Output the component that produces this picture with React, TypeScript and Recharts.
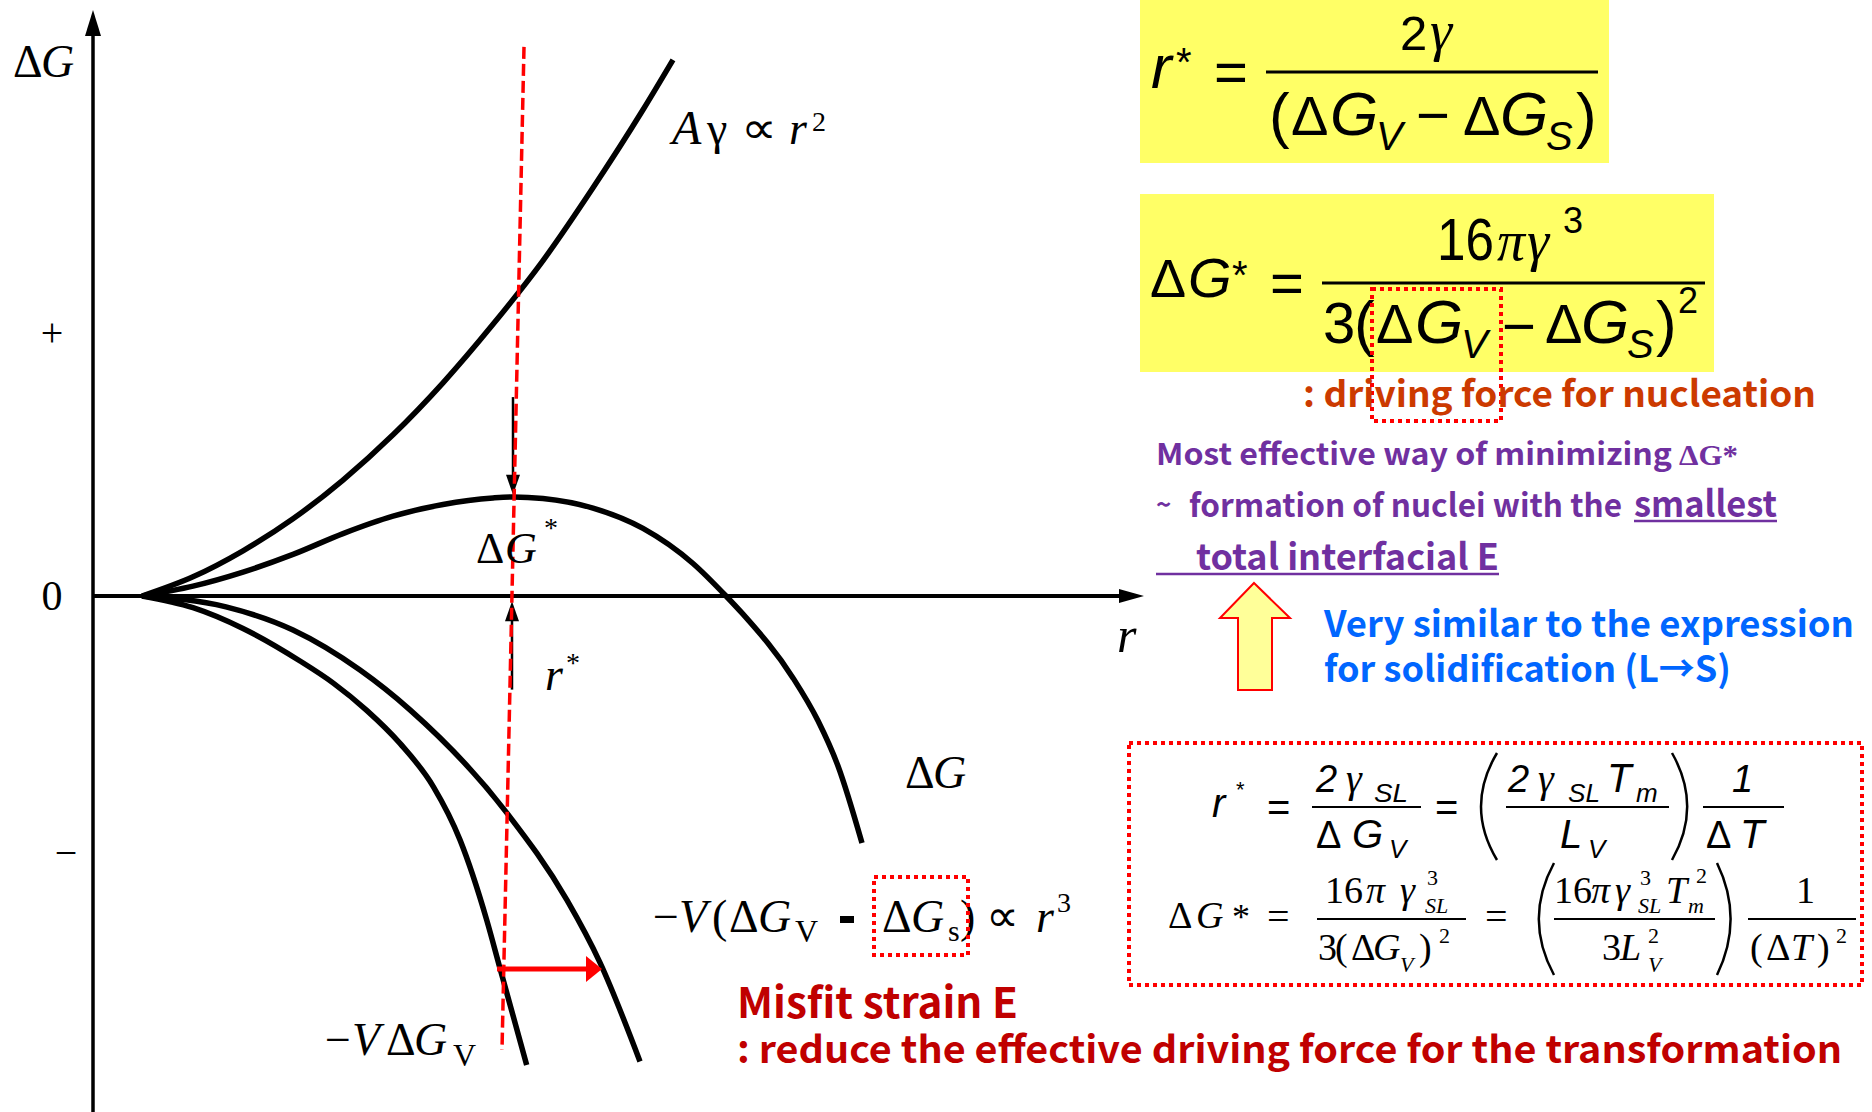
import React from "react";
import { LineChart, Line, XAxis, YAxis, ReferenceLine } from "recharts";

const SERIF = "'Liberation Serif', 'DejaVu Serif', serif";
const SYM = "'DejaVu Sans', 'DejaVu Serif', sans-serif";
const SANS = "'Liberation Sans', Arial, sans-serif";
const KR = "'Noto Sans CJK KR', 'Noto Sans', sans-serif";

// radius r and free energy g, arbitrary units
const rSurface = [0.49, 1.0, 1.5, 2.0, 2.5, 3.0, 3.5, 4.0, 4.5, 5.0, 5.5, 5.8];
const gSurface = [0, 0.074, 0.174, 0.297, 0.446, 0.62, 0.82, 1.045, 1.29, 1.57, 1.87, 2.062];

const rTotal = [0.49, 1.0, 1.5, 2.0, 2.5, 3.0, 3.5, 4.0, 4.2, 4.5, 5.0, 5.5, 6.0, 6.33, 6.5, 7.0, 7.25, 7.45, 7.69];
const gTotal = [0, 0.038, 0.092, 0.16, 0.24, 0.307, 0.352, 0.377, 0.381, 0.375, 0.338, 0.26, 0.125, 0, -0.07, -0.315, -0.48, -0.654, -0.95];

const rStrained = [0.49, 1.33, 2.0, 2.67, 3.17, 4.14, 4.74, 5.07, 5.47];
const gStrained = [0, -0.042, -0.131, -0.285, -0.438, -0.835, -1.17, -1.41, -1.79];

const rVolume = [0.49, 1.0, 1.5, 2.07, 2.403, 2.737, 3.07, 3.403, 3.67, 3.937, 4.07, 4.337];
const gVolume = [0, -0.045, -0.125, -0.25, -0.335, -0.44, -0.567, -0.733, -0.938, -1.246, -1.432, -1.804];

const rGuide = [4.31, 4.09];
const gGuide = [2.112, -1.746];

const yTicks = [-1, 0, 1];
const yTickText = ["−", "0", "+"];

const criticalR = 4.2;
const barrierG = 0.381;
const misfitR = [4.04, 5.09];
const misfitG = -1.435;

const toPoints = (rs: number[], gs: number[]) => rs.map((r, i) => ({ r, g: gs[i] }));

const arrowShape = (head: number, half: number) => (props: any) => {
  const { x1, y1, x2, y2, stroke, strokeWidth } = props;
  const dx = x2 - x1;
  const dy = y2 - y1;
  const len = Math.hypot(dx, dy) || 1;
  const ux = dx / len;
  const uy = dy / len;
  const bx = x2 - ux * head;
  const by = y2 - uy * head;
  return (
    <g>
      <line x1={x1} y1={y1} x2={bx + ux} y2={by + uy} stroke={stroke} strokeWidth={strokeWidth} />
      <polygon
        points={`${x2},${y2} ${bx - uy * half},${by + ux * half} ${bx + uy * half},${by - ux * half}`}
        fill={stroke}
      />
    </g>
  );
};

const SignTick = ({ y, payload }: any) => {
  const v = payload.value;
  const label = yTickText[yTicks.indexOf(v)];
  return (
    <text
      x={v < 0 ? 66 : 52}
      y={y}
      dy={v === 0 ? 14 : 10}
      textAnchor="middle"
      fontSize={v === 0 ? 42 : 40}
      fontFamily={SERIF}
      fill="#000"
    >
      {label}
    </text>
  );
};

const Tx = ({ x, y, s, i, b, f = SERIF, c = "#000", len, children }: any) => (
  <text
    x={x}
    y={y}
    fontSize={s}
    fontStyle={i ? "italic" : "normal"}
    fontWeight={b ? 700 : 400}
    fontFamily={f}
    fill={c}
    textLength={len}
    lengthAdjust={len ? "spacingAndGlyphs" : undefined}
  >
    {children}
  </text>
);

const Paren = ({ x, top, bottom, w, open }: any) => {
  const mid = (top + bottom) / 2;
  const d = open
    ? `M${x + w},${top} Q${x - w * 0.6},${mid} ${x + w},${bottom}`
    : `M${x},${top} Q${x + w * 1.6},${mid} ${x},${bottom}`;
  return <path d={d} fill="none" stroke="#000" strokeWidth={2.5} />;
};

const RED = "#FF0000";

const Annotations = () => (
  <svg
    width={1872}
    height={1112}
    style={{ position: "absolute", left: 0, top: 0, pointerEvents: "none" }}
  >
    {/* axis titles */}
    <Tx x={13} y={77} s={46}>Δ</Tx>
    <Tx x={41} y={77} s={46} i>G</Tx>
    <Tx x={1117} y={652} s={50} i>r</Tx>

    {/* curve labels */}
    <Tx x={672} y={144} s={48} i>A</Tx>
    <Tx x={707} y={144} s={46}>γ</Tx>
    <Tx x={741} y={143} s={44} f={SYM} len={36}>∝</Tx>
    <Tx x={789} y={144} s={46} i>r</Tx>
    <Tx x={812} y={131} s={28}>2</Tx>

    <Tx x={476} y={563} s={44}>Δ</Tx>
    <Tx x={505} y={563} s={44} i>G</Tx>
    <Tx x={544} y={537} s={28}>*</Tx>

    <Tx x={545} y={690} s={46} i>r</Tx>
    <Tx x={566} y={672} s={28}>*</Tx>

    <Tx x={905} y={788} s={46}>Δ</Tx>
    <Tx x={933} y={788} s={46} i>G</Tx>

    <Tx x={653} y={932} s={46}>−</Tx>
    <Tx x={679} y={932} s={46} i>V</Tx>
    <Tx x={712} y={932} s={46}>(</Tx>
    <Tx x={729} y={932} s={46}>Δ</Tx>
    <Tx x={758} y={932} s={46} i>G</Tx>
    <Tx x={795} y={942} s={32}>V</Tx>
    <rect x={840} y={916} width={14} height={7} fill="#000" />
    <Tx x={882} y={932} s={46}>Δ</Tx>
    <Tx x={911} y={932} s={46} i>G</Tx>
    <Tx x={948} y={941} s={30}>s</Tx>
    <Tx x={960} y={932} s={46}>)</Tx>
    <Tx x={986} y={931} s={44} f={SYM} len={33}>∝</Tx>
    <Tx x={1036} y={932} s={46} i>r</Tx>
    <Tx x={1057} y={912} s={28}>3</Tx>
    <rect x={874} y={877} width={94} height={78} fill="none" stroke={RED} strokeWidth={4} strokeDasharray="4 4" />

    <Tx x={325} y={1055} s={46}>−</Tx>
    <Tx x={352} y={1055} s={46} i>V</Tx>
    <Tx x={386} y={1055} s={46}>Δ</Tx>
    <Tx x={414} y={1055} s={46} i>G</Tx>
    <Tx x={453} y={1066} s={32}>V</Tx>

    <Tx x={737} y={1018} s={42} b f={KR} c="#C00000" len={281}>Misfit strain E</Tx>
    <Tx x={737} y={1063} s={38} b f={KR} c="#C00000" len={1105}>
      : reduce the effective driving force for the transformation
    </Tx>

    {/* r* = 2γ / (ΔGV − ΔGS) */}
    <rect x={1140} y={0} width={469} height={163} fill="#FFFF66" />
    <Tx x={1151} y={88} s={62} i f={SANS}>r</Tx>
    <Tx x={1176} y={76} s={40} f={SANS}>*</Tx>
    <Tx x={1214} y={92} s={58} f={SANS}>=</Tx>
    <line x1={1266} y1={72} x2={1598} y2={72} stroke="#000" strokeWidth={3} />
    <Tx x={1400} y={50} s={49} f={SANS}>2</Tx>
    <Tx x={1430} y={50} s={56} i>γ</Tx>
    <Tx x={1269} y={136} s={62} f={SANS}>(</Tx>
    <Tx x={1291} y={135} s={56} f={SANS}>Δ</Tx>
    <Tx x={1330} y={135} s={62} i f={SANS}>G</Tx>
    <Tx x={1376} y={150} s={40} i f={SANS}>V</Tx>
    <Tx x={1416} y={135} s={58} f={SANS}>−</Tx>
    <Tx x={1463} y={135} s={56} f={SANS}>Δ</Tx>
    <Tx x={1500} y={135} s={62} i f={SANS}>G</Tx>
    <Tx x={1546} y={150} s={40} i f={SANS}>S</Tx>
    <Tx x={1576} y={136} s={62} f={SANS}>)</Tx>

    {/* ΔG* = 16πγ³ / 3(ΔGV − ΔGS)² */}
    <rect x={1140} y={194} width={574} height={178} fill="#FFFF66" />
    <Tx x={1150} y={297} s={54} f={SANS}>Δ</Tx>
    <Tx x={1188} y={297} s={56} i f={SANS}>G</Tx>
    <Tx x={1232} y={289} s={40} f={SANS}>*</Tx>
    <Tx x={1270} y={303} s={58} f={SANS}>=</Tx>
    <line x1={1322} y1={283} x2={1705} y2={283} stroke="#000" strokeWidth={3} />
    <Tx x={1437} y={260} s={60} f={SANS} len={57}>16</Tx>
    <Tx x={1497} y={260} s={56} i>π</Tx>
    <Tx x={1527} y={260} s={56} i>γ</Tx>
    <Tx x={1563} y={233} s={36} f={SANS}>3</Tx>
    <Tx x={1323} y={343} s={58} f={SANS}>3</Tx>
    <Tx x={1354} y={344} s={62} f={SANS}>(</Tx>
    <Tx x={1376} y={343} s={56} f={SANS}>Δ</Tx>
    <Tx x={1415} y={343} s={62} i f={SANS}>G</Tx>
    <Tx x={1461} y={358} s={40} i f={SANS}>V</Tx>
    <Tx x={1502} y={346} s={58} f={SANS}>−</Tx>
    <Tx x={1545} y={343} s={56} f={SANS}>Δ</Tx>
    <Tx x={1581} y={343} s={62} i f={SANS}>G</Tx>
    <Tx x={1627} y={358} s={40} i f={SANS}>S</Tx>
    <Tx x={1656} y={344} s={62} f={SANS}>)</Tx>
    <Tx x={1678} y={313} s={36} f={SANS}>2</Tx>
    <rect x={1372} y={289} width={129} height={132} fill="none" stroke={RED} strokeWidth={4} strokeDasharray="4 4" />

    <Tx x={1303} y={407} s={36} b f={KR} c="#CC3A00" len={513}>: driving force for nucleation</Tx>

    <Tx x={1156} y={465} s={30} b f={KR} c="#7030A0" len={516}>Most effective way of minimizing</Tx>
    <Tx x={1679} y={465} s={30} b c="#7030A0" len={59}>ΔG*</Tx>
    <Tx x={1156} y={514} s={26} b f={KR} c="#7030A0">~</Tx>
    <Tx x={1189} y={517} s={32} b f={KR} c="#7030A0" len={433}>formation of nuclei with the</Tx>
    <Tx x={1634} y={517} s={36} b f={KR} c="#7030A0" len={143}>smallest</Tx>
    <line x1={1634} y1={521} x2={1777} y2={521} stroke="#7030A0" strokeWidth={2.5} />
    <Tx x={1196} y={570} s={36} b f={KR} c="#7030A0" len={303}>total interfacial E</Tx>
    <line x1={1156} y1={574} x2={1499} y2={574} stroke="#7030A0" strokeWidth={2.5} />

    <polygon
      points="1254,583 1290,618 1272,618 1272,690 1238,690 1238,618 1220,618"
      fill="#FFFF99"
      stroke={RED}
      strokeWidth={2}
    />
    <Tx x={1324} y={637} s={36} b f={KR} c="#0066FF" len={530}>Very similar to the expression</Tx>
    <Tx x={1324} y={682} s={36} b f={KR} c="#0066FF" len={407}>for solidification (L→S)</Tx>

    {/* homogeneous solidification results */}
    <rect x={1129} y={743} width={733} height={242} fill="none" stroke={RED} strokeWidth={4} strokeDasharray="4 4" />
    <Tx x={1212} y={817} s={40} i f={SANS}>r</Tx>
    <Tx x={1236} y={797} s={22} f={SANS}>*</Tx>
    <Tx x={1267} y={821} s={40} f={SANS}>=</Tx>
    <Tx x={1316} y={792} s={38} i f={SANS}>2</Tx>
    <Tx x={1346} y={792} s={40} i>γ</Tx>
    <Tx x={1374} y={802} s={26} i f={SANS} len={34}>SL</Tx>
    <line x1={1312} y1={807} x2={1421} y2={807} stroke="#000" strokeWidth={2} />
    <Tx x={1316} y={848} s={38} f={SANS}>Δ</Tx>
    <Tx x={1352} y={848} s={40} i f={SANS}>G</Tx>
    <Tx x={1389} y={858} s={26} i f={SANS}>V</Tx>
    <Tx x={1435} y={821} s={40} f={SANS}>=</Tx>
    <Paren x={1477} top={753} bottom={860} w={20} open />
    <Tx x={1508} y={792} s={38} i f={SANS}>2</Tx>
    <Tx x={1538} y={792} s={40} i>γ</Tx>
    <Tx x={1568} y={802} s={26} i f={SANS} len={32}>SL</Tx>
    <Tx x={1607} y={792} s={40} i f={SANS}>T</Tx>
    <Tx x={1636} y={802} s={26} i f={SANS}>m</Tx>
    <line x1={1506} y1={807} x2={1669} y2={807} stroke="#000" strokeWidth={2} />
    <Tx x={1560} y={848} s={40} i f={SANS}>L</Tx>
    <Tx x={1588} y={858} s={26} i f={SANS}>V</Tx>
    <Paren x={1672} top={753} bottom={860} w={19} />
    <Tx x={1732} y={792} s={38} i f={SANS}>1</Tx>
    <line x1={1703} y1={807} x2={1784} y2={807} stroke="#000" strokeWidth={2} />
    <Tx x={1706} y={848} s={38} f={SANS}>Δ</Tx>
    <Tx x={1740} y={848} s={40} i f={SANS}>T</Tx>

    <Tx x={1168} y={928} s={38}>Δ</Tx>
    <Tx x={1196} y={928} s={38} i>G</Tx>
    <Tx x={1232} y={929} s={36}>*</Tx>
    <Tx x={1267} y={930} s={40}>=</Tx>
    <Tx x={1325} y={903} s={38}>16</Tx>
    <Tx x={1366} y={903} s={38} i>π</Tx>
    <Tx x={1400} y={903} s={38} i>γ</Tx>
    <Tx x={1427} y={885} s={22}>3</Tx>
    <Tx x={1425} y={913} s={22} i>SL</Tx>
    <line x1={1317} y1={919} x2={1466} y2={919} stroke="#000" strokeWidth={2} />
    <Tx x={1318} y={960} s={38}>3</Tx>
    <Tx x={1335} y={960} s={38}>(</Tx>
    <Tx x={1351} y={960} s={38}>Δ</Tx>
    <Tx x={1373} y={960} s={38} i>G</Tx>
    <Tx x={1400} y={972} s={22} i>V</Tx>
    <Tx x={1419} y={960} s={38}>)</Tx>
    <Tx x={1439} y={943} s={22}>2</Tx>
    <Tx x={1485} y={930} s={40}>=</Tx>
    <Paren x={1535} top={863} bottom={975} w={19} open />
    <Tx x={1554} y={903} s={38}>16</Tx>
    <Tx x={1591} y={903} s={38} i>π</Tx>
    <Tx x={1615} y={903} s={38} i>γ</Tx>
    <Tx x={1640} y={885} s={22}>3</Tx>
    <Tx x={1638} y={913} s={22} i>SL</Tx>
    <Tx x={1666} y={903} s={38} i>T</Tx>
    <Tx x={1696} y={883} s={22}>2</Tx>
    <Tx x={1688} y={913} s={22} i>m</Tx>
    <line x1={1554} y1={919} x2={1715} y2={919} stroke="#000" strokeWidth={2} />
    <Tx x={1602} y={960} s={38}>3</Tx>
    <Tx x={1620} y={960} s={38} i>L</Tx>
    <Tx x={1648} y={943} s={22}>2</Tx>
    <Tx x={1648} y={972} s={22} i>V</Tx>
    <Paren x={1717} top={863} bottom={975} w={17} />
    <Tx x={1796} y={903} s={38}>1</Tx>
    <line x1={1748} y1={919} x2={1856} y2={919} stroke="#000" strokeWidth={2} />
    <Tx x={1750} y={960} s={38}>(</Tx>
    <Tx x={1766} y={960} s={38}>Δ</Tx>
    <Tx x={1791} y={960} s={38} i>T</Tx>
    <Tx x={1817} y={960} s={38}>)</Tx>
    <Tx x={1836} y={943} s={22}>2</Tx>
  </svg>
);

export default function App() {
  return (
    <div style={{ position: "relative", width: 1872, height: 1112, background: "#fff" }}>
      <style>{"body{margin:0}"}</style>
      <LineChart width={1872} height={1112} margin={{ top: 24, right: 579, bottom: 22, left: 0 }}>
        <XAxis dataKey="r" type="number" domain={[0, 12]} allowDataOverflow hide />
        <YAxis
          type="number"
          domain={[-1.9, 2.2]}
          allowDataOverflow
          ticks={yTicks}
          interval={0}
          width={93}
          axisLine={false}
          tickLine={false}
          tick={<SignTick />}
        />

        {/* axes through the origin */}
        <ReferenceLine
          segment={[{ x: 0, y: -1.99 }, { x: 0, y: 2.254 }]}
          stroke="#000"
          strokeWidth={3.5}
          ifOverflow="visible"
          shape={arrowShape(26, 8)}
        />
        <ReferenceLine
          segment={[{ x: 0, y: 0 }, { x: 10.51, y: 0 }]}
          stroke="#000"
          strokeWidth={4}
          ifOverflow="visible"
          shape={arrowShape(25, 7)}
        />

        <Line data={toPoints(rSurface, gSurface)} dataKey="g" type="monotone" stroke="#000" strokeWidth={5.5} dot={false} isAnimationActive={false} />
        <Line data={toPoints(rTotal, gTotal)} dataKey="g" type="monotone" stroke="#000" strokeWidth={5.5} dot={false} isAnimationActive={false} />
        <Line data={toPoints(rStrained, gStrained)} dataKey="g" type="monotone" stroke="#000" strokeWidth={5.5} dot={false} isAnimationActive={false} />
        <Line data={toPoints(rVolume, gVolume)} dataKey="g" type="monotone" stroke="#000" strokeWidth={5.5} dot={false} isAnimationActive={false} />

        {/* ΔG* and r* markers */}
        <ReferenceLine
          segment={[{ x: criticalR, y: 0.765 }, { x: criticalR, y: barrierG + 0.008 }]}
          stroke="#000"
          strokeWidth={2.5}
          ifOverflow="visible"
          shape={arrowShape(20, 7)}
        />
        <ReferenceLine
          segment={[{ x: criticalR - 0.01, y: -0.36 }, { x: criticalR - 0.01, y: -0.02 }]}
          stroke="#000"
          strokeWidth={2.5}
          ifOverflow="visible"
          shape={arrowShape(20, 7)}
        />

        <Line
          data={toPoints(rGuide, gGuide)}
          dataKey="g"
          type="linear"
          stroke={RED}
          strokeWidth={3.5}
          strokeDasharray="12 5"
          dot={false}
          isAnimationActive={false}
        />
        <ReferenceLine
          segment={[{ x: misfitR[0], y: misfitG }, { x: misfitR[1], y: misfitG }]}
          stroke={RED}
          strokeWidth={5}
          ifOverflow="visible"
          shape={arrowShape(16, 13)}
        />
      </LineChart>
      <Annotations />
    </div>
  );
}
